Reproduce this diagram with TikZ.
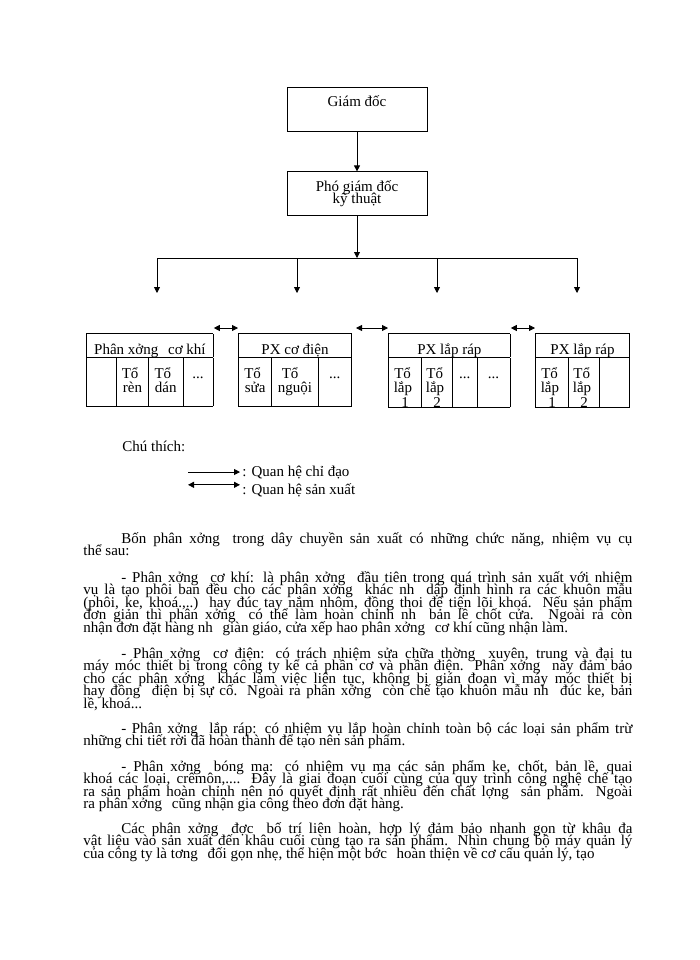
\documentclass[tikz,border=0pt]{standalone}
\usepackage{fontspec}
\setmainfont{Liberation Serif}
\usepackage{array}
\usetikzlibrary{arrows.meta, positioning}

\newcolumntype{C}[1]{>{\centering\arraybackslash}p{#1}}
\newcommand{\wgap}{\hspace{6pt}}
\newcommand{\diafont}{\fontsize{15}{14.5}\selectfont}
\newcommand{\bodyfont}{\fontsize{15}{12.6}\selectfont\lineskiplimit=-30pt\relax\hyphenpenalty=10000\relax}
\newcommand{\hstrut}{\rule[-3pt]{0pt}{23pt}}
\newcommand{\cstrut}{\rule[-28pt]{0pt}{48pt}}
\renewcommand{\arraystretch}{0}
\setlength{\arrayrulewidth}{0.8pt}
\setlength{\tabcolsep}{0pt}

\begin{document}
\begin{tikzpicture}[
        x=1pt, y=-1pt, line width=0.8pt,
        chief/.style={draw, minimum width=140pt, minimum height=44pt, font=\diafont, align=center},
        pxbox/.style={inner sep=0pt, anchor=north west, font=\diafont},
        note/.style={inner sep=2pt, anchor=base west, font=\diafont},
        para/.style={inner sep=0pt, anchor=base west, text width=549pt, align=justify, font=\bodyfont},
        >={Triangle[length=6pt, width=6pt]}
    ]
        \useasboundingbox (0,0) rectangle (700,960);

        \node[chief, text height=10pt, text depth=14pt] (gd) at (357,109) {Giám đốc};
        \node[chief, below=40pt of gd, font=\bodyfont] (pgd) {Phó giám đốc\\kỹ thuật};

        \node[pxbox] (px1) at (86,333) {\begin{tabular}{|C{29pt}|C{31pt}|C{34pt}|C{29pt}|}\hline
            \multicolumn{4}{|c|}{\hstrut Phân xởng\wgap{} cơ khí}\\\hline
            & Tổ\newline rèn & Tổ\newline dán & \cstrut ...\\\hline
        \end{tabular}};
        \node[pxbox] (px2) at (238,333) {\begin{tabular}{|C{32pt}|C{46pt}|C{32pt}|}\hline
            \multicolumn{3}{|c|}{\hstrut PX cơ điện}\\\hline
            Tổ\newline sửa & Tổ\newline nguội & \cstrut ...\\\hline
        \end{tabular}};
        \node[pxbox] (px3) at (388,333) {\begin{tabular}{|C{32pt}|C{30pt}|C{24pt}|C{32pt}|}\hline
            \multicolumn{4}{|c|}{\hstrut PX lắp ráp}\\\hline
            Tổ\newline lắp\newline 1 & Tổ\newline lắp\newline 2 & \cstrut ... & ...\\\hline
        \end{tabular}};
        \node[pxbox] (px4) at (535,333) {\begin{tabular}{|C{32pt}|C{30pt}|C{29pt}|}\hline
            \multicolumn{3}{|c|}{\hstrut PX lắp ráp}\\\hline
            Tổ\newline lắp\newline 1 & Tổ\newline lắp\newline 2 & \cstrut\\\hline
        \end{tabular}};

        \coordinate (b1) at (157,258);
        \coordinate (b2) at (297,258);
        \coordinate (b3) at (437,258);
        \coordinate (b4) at (577,258);
        \coordinate (t1) at (157,293);
        \coordinate (t2) at (297,293);
        \coordinate (t3) at (437,293);
        \coordinate (t4) at (577,293);

        \draw[->] (gd) -- (pgd);
        \draw[->] (pgd) -- (pgd |- b1);
        \draw (b1) -- (b4);
        \draw[->] (b1) -- (t1);
        \draw[->] (b2) -- (t2);
        \draw[->] (b3) -- (t3);
        \draw[->] (b4) -- (t4);
        \draw[<->] ([yshift=5pt]px1.north east) -- ([yshift=5pt]px2.north west);
        \draw[<->] ([shift={(4pt,5pt)}]px2.north east) -- ([yshift=5pt]px3.north west);
        \draw[<->] ([yshift=5pt]px3.north east) -- ([yshift=5pt]px4.north west);

        \node[note] (lg0) at (120,451) {Chú thích:};
        \node[note] (lg1) at (240,476) {: Quan hệ chỉ đạo};
        \node[note] (lg2) at (240,494) {: Quan hệ sản xuất};
        \draw[->] ([xshift=-52pt]lg1.west) -- (lg1.west);
        \draw[<->] ([shift={(-52pt,5pt)}]lg2.west) -- ([yshift=5pt]lg2.west);

        \node[para] (p1) at (83,543) {\hspace*{38pt}Bốn phân xởng\wgap{} trong dây chuyền sản xuất có những chức năng, nhiệm vụ cụ\linebreak
            thể sau:};
        \node[para] (p2) at (83,582) {\hspace*{38pt}- Phân xởng\wgap{} cơ khí: là phân xởng\wgap{} đầu tiên trong quá trình sản xuất với nhiệm\linebreak
            vụ là tạo phôi ban đều cho các phân xởng\wgap{} khác nh\wgap{} dập định hình ra các khuôn mẫu\linebreak
            (phôi, ke, khoá.,..) hay đúc tay nắm nhôm, đồng thoi để tiện lõi khoá. Nếu sản phẩm\linebreak
            đơn giản thì phân xởng\wgap{} có thể làm hoàn chỉnh nh\wgap{} bản lề chốt cửa. Ngoài ra còn\linebreak
            nhận đơn đặt hàng nh\wgap{} giàn giáo, cửa xếp hao phân xởng\wgap{} cơ khí cũng nhận làm.};
        \node[para] (p3) at (83,658) {\hspace*{38pt}- Phân xởng\wgap{} cơ điện: có trách nhiệm sửa chữa thờng\wgap{} xuyên, trung và đại tu\linebreak
            máy móc thiết bị trong công ty kể cả phần cơ và phần điện. Phân xởng\wgap{} này đảm bảo\linebreak
            cho các phân xởng\wgap{} khác làm việc liên tục, không bị gián đoạn vì máy móc thiết bị\linebreak
            hay đồng\wgap{} điện bị sự cố. Ngoài ra phân xởng\wgap{} còn chế tạo khuôn mẫu nh\wgap{} đúc ke, bản\linebreak
            lề, khoá...};
        \node[para] (p4) at (83,733) {\hspace*{38pt}- Phân xởng\wgap{} lắp ráp: có nhiệm vụ lắp hoàn chỉnh toàn bộ các loại sản phẩm trừ\linebreak
            những chi tiết rời đã hoàn thành để tạo nên sản phẩm.};
        \node[para] (p5) at (83,771) {\hspace*{38pt}- Phân xởng\wgap{} bóng mạ: có nhiệm vụ mạ các sản phẩm ke, chốt, bản lề, quai\linebreak
            khoá các loại, crêmôn,.... Đây là giai đoạn cuối cùng của quy trình công nghệ chế tạo\linebreak
            ra sản phẩm hoàn chỉnh nên nó quyết định rất nhiều đến chất lợng\wgap{} sản phẩm. Ngoài\linebreak
            ra phân xởng\wgap{} cũng nhận gia công theo đơn đặt hàng.};
        \node[para] (p6) at (83,833) {\parfillskip=0pt\hspace*{38pt}Các phân xởng\wgap{} đợc\wgap{} bố trí liên hoàn, hợp lý đảm bảo nhanh gọn từ khâu đa\linebreak
            vật liệu vào sản xuất đến khâu cuối cùng tạo ra sản phẩm. Nhìn chung bộ máy quản lý\linebreak
            của công ty là tơng\wgap{} đối gọn nhẹ, thể hiện một bớc\wgap{} hoàn thiện về cơ cấu quản lý, tạo};
    \end{tikzpicture}
\end{document}
